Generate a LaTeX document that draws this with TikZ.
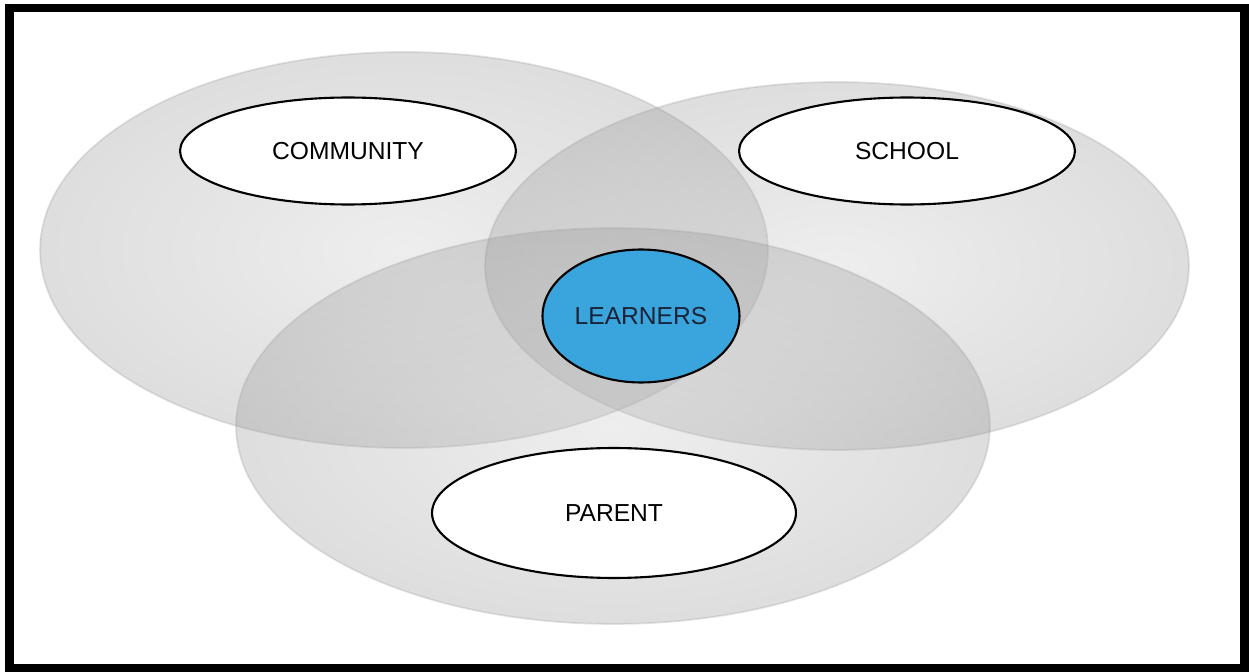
\documentclass[tikz,border=0pt]{standalone}
\usepackage{fontspec}
\setmainfont{Liberation Sans}
\usetikzlibrary{calc}
\usetikzlibrary{shapes}

\definecolor{learnblue}{RGB}{58,164,221}
\definecolor{learntext}{RGB}{25,35,55}

\tikzset{
  ring/.style={shade, inner color=gray!40, outer color=gray!80, opacity=0.32, draw=gray!70, line width=1pt},
  label/.style={ellipse, draw=black, fill=white, line width=1.2pt, inner sep=0pt, font=\fontsize{14}{16}\selectfont},
}

\begin{document}
\begin{tikzpicture}[x=0.02cm, y=-0.02cm]
    \useasboundingbox (0,0) rectangle (1249,672);
    \fill[white] (0,0) rectangle (1249,672);

    \coordinate (C0) at (404, 250);
    \coordinate (C1) at (837, 266);
    \coordinate (C2) at (613, 426);
    \coordinate (C3) at (348, 151);
    \coordinate (C4) at (907, 151);
    \coordinate (C5) at (614, 513);
    \coordinate (C6) at (641, 316);

    \draw [ring](C0) ellipse [x radius=7.28cm, y radius=3.96cm];
    \draw [ring](C1) ellipse [x radius=7.04cm, y radius=3.68cm];
    \draw [ring](C2) ellipse [x radius=7.54cm, y radius=3.96cm];

    \node [label, minimum width=6.72cm, minimum height=2.14cm] (community) at (C3) {COMMUNITY};
    \node [label, minimum width=6.72cm, minimum height=2.14cm] (school) at (C4) {SCHOOL};
    \node [label, minimum width=7.28cm, minimum height=2.6cm] (parent) at (C5) {PARENT};
    \node [label, fill=learnblue, text=learntext, minimum width=3.94cm, minimum height=2.66cm] (learners) at (C6) {LEARNERS};

    \draw [line width=0.17cm](9.5,8) rectangle (1244.5,668.5);

  \end{tikzpicture}
\end{document}
